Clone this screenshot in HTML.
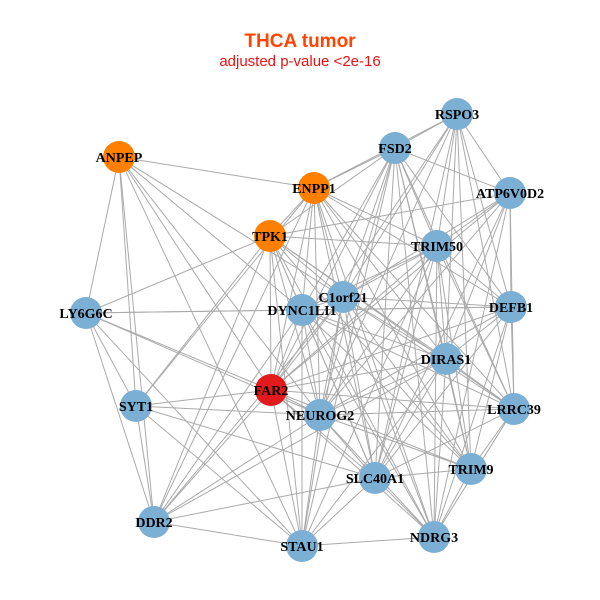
<!DOCTYPE html>
<html><head><style>body{margin:0;background:#fff}svg{display:block}</style></head><body>
<svg width="600" height="600" xmlns="http://www.w3.org/2000/svg">
<rect width="600" height="600" fill="#fff"/>
<text x="300" y="47" text-anchor="middle" font-family="Liberation Sans, sans-serif" font-weight="bold" font-size="19" fill="#ff4500">THCA tumor</text>
<text x="300" y="66" text-anchor="middle" font-family="Liberation Sans, sans-serif" font-size="15" fill="#ee1111">adjusted p-value &lt;2e-16</text>
<g stroke="#aaaaaa" stroke-width="1" id="e"></g>
<g id="n"></g>
<script>
var N={RSPO3:[457,114,0],FSD2:[395,148,0],ANPEP:[119,157,1],ENPP1:[314,188,1],ATP6V0D2:[510,193,0],TPK1:[270,236,1],TRIM50:[437,246,0],C1orf21:[343,297,0],DYNC1LI1:[302,310,0],LY6G6C:[86,313,0],DEFB1:[511,307,0],DIRAS1:[446,359,0],FAR2:[271,390,2],SYT1:[136,406,0],NEUROG2:[320,415,0],LRRC39:[514,409,0],TRIM9:[471,469,0],SLC40A1:[375,478,0],DDR2:[154,522,0],STAU1:[302,546,0],NDRG3:[434,537,0]};
var E="ANPEP ENPP1,ANPEP LY6G6C,ANPEP SYT1,ANPEP DDR2,ANPEP FAR2,ANPEP DYNC1LI1,ANPEP NEUROG2,ANPEP C1orf21,ANPEP STAU1,ENPP1 FSD2,ENPP1 TPK1,ENPP1 TRIM50,ENPP1 C1orf21,ENPP1 DYNC1LI1,ENPP1 FAR2,ENPP1 NEUROG2,ENPP1 DIRAS1,ENPP1 SLC40A1,ENPP1 LRRC39,ENPP1 DEFB1,ENPP1 SYT1,ENPP1 DDR2,ENPP1 TRIM9,ENPP1 NDRG3,FSD2 RSPO3,FSD2 TPK1,FSD2 TRIM50,FSD2 C1orf21,FSD2 DYNC1LI1,FSD2 FAR2,FSD2 DIRAS1,FSD2 NEUROG2,FSD2 SLC40A1,FSD2 TRIM9,FSD2 NDRG3,FSD2 LRRC39,FSD2 DEFB1,FSD2 STAU1,FSD2 ATP6V0D2,RSPO3 TRIM50,RSPO3 C1orf21,RSPO3 DIRAS1,RSPO3 DEFB1,RSPO3 LRRC39,RSPO3 TRIM9,RSPO3 NEUROG2,RSPO3 SLC40A1,RSPO3 FAR2,RSPO3 ATP6V0D2,RSPO3 ENPP1,ATP6V0D2 TPK1,ATP6V0D2 TRIM50,ATP6V0D2 C1orf21,ATP6V0D2 DIRAS1,ATP6V0D2 DEFB1,ATP6V0D2 LRRC39,ATP6V0D2 NEUROG2,ATP6V0D2 SLC40A1,ATP6V0D2 FAR2,ATP6V0D2 NDRG3,TPK1 LY6G6C,TPK1 DYNC1LI1,TPK1 C1orf21,TPK1 FAR2,TPK1 NEUROG2,TPK1 DIRAS1,TPK1 SLC40A1,TPK1 STAU1,TPK1 DDR2,TPK1 SYT1,TPK1 TRIM9,TPK1 NDRG3,TPK1 TRIM50,TPK1 LRRC39,TRIM50 C1orf21,TRIM50 DYNC1LI1,TRIM50 DIRAS1,TRIM50 DEFB1,TRIM50 NEUROG2,TRIM50 SLC40A1,TRIM50 FAR2,TRIM50 NDRG3,TRIM50 TRIM9,TRIM50 LRRC39,TRIM50 STAU1,C1orf21 DYNC1LI1,C1orf21 DIRAS1,C1orf21 DEFB1,C1orf21 FAR2,C1orf21 NEUROG2,C1orf21 SLC40A1,C1orf21 STAU1,C1orf21 NDRG3,C1orf21 TRIM9,C1orf21 LRRC39,C1orf21 DDR2,DYNC1LI1 LY6G6C,DYNC1LI1 DEFB1,DYNC1LI1 DIRAS1,DYNC1LI1 FAR2,DYNC1LI1 NEUROG2,DYNC1LI1 SLC40A1,DYNC1LI1 STAU1,DYNC1LI1 NDRG3,DYNC1LI1 TRIM9,DYNC1LI1 LRRC39,DYNC1LI1 DDR2,LY6G6C DEFB1,LY6G6C SYT1,LY6G6C DDR2,LY6G6C FAR2,LY6G6C NEUROG2,LY6G6C STAU1,DEFB1 DIRAS1,DEFB1 LRRC39,DEFB1 NEUROG2,DEFB1 SLC40A1,DEFB1 NDRG3,DEFB1 FAR2,DEFB1 TRIM9,DIRAS1 FAR2,DIRAS1 NEUROG2,DIRAS1 LRRC39,DIRAS1 TRIM9,DIRAS1 SLC40A1,DIRAS1 NDRG3,DIRAS1 STAU1,DIRAS1 DDR2,FAR2 SYT1,FAR2 NEUROG2,FAR2 SLC40A1,FAR2 STAU1,FAR2 DDR2,FAR2 NDRG3,FAR2 TRIM9,FAR2 LRRC39,SYT1 NEUROG2,SYT1 DDR2,SYT1 STAU1,SYT1 SLC40A1,NEUROG2 TRIM9,NEUROG2 SLC40A1,NEUROG2 NDRG3,NEUROG2 STAU1,NEUROG2 LRRC39,NEUROG2 DDR2,LRRC39 TRIM9,LRRC39 NDRG3,LRRC39 SLC40A1,TRIM9 SLC40A1,TRIM9 NDRG3,SLC40A1 STAU1,SLC40A1 NDRG3,SLC40A1 DDR2,STAU1 NDRG3,STAU1 DDR2".split(",");
var ns="http://www.w3.org/2000/svg",ge=document.getElementById("e"),gn=document.getElementById("n");
E.forEach(function(p){var a=p.split(" "),A=N[a[0]],B=N[a[1]];var l=document.createElementNS(ns,"line");l.setAttribute("x1",A[0]);l.setAttribute("y1",A[1]);l.setAttribute("x2",B[0]);l.setAttribute("y2",B[1]);ge.appendChild(l);});
var col=["#7bafd4","#ff7f00","#e31a1c"];
for(var k in N){var c=document.createElementNS(ns,"circle");c.setAttribute("cx",N[k][0]);c.setAttribute("cy",N[k][1]);c.setAttribute("r",16);c.setAttribute("fill",col[N[k][2]]);gn.appendChild(c);}
for(var k in N){var t=document.createElementNS(ns,"text");t.setAttribute("x",N[k][0]);t.setAttribute("y",N[k][1]+5);t.setAttribute("text-anchor","middle");t.setAttribute("font-family","Liberation Serif, serif");t.setAttribute("font-weight","bold");t.setAttribute("font-size","14");t.textContent=k;gn.appendChild(t);}
</script>
</svg>
</body></html>
